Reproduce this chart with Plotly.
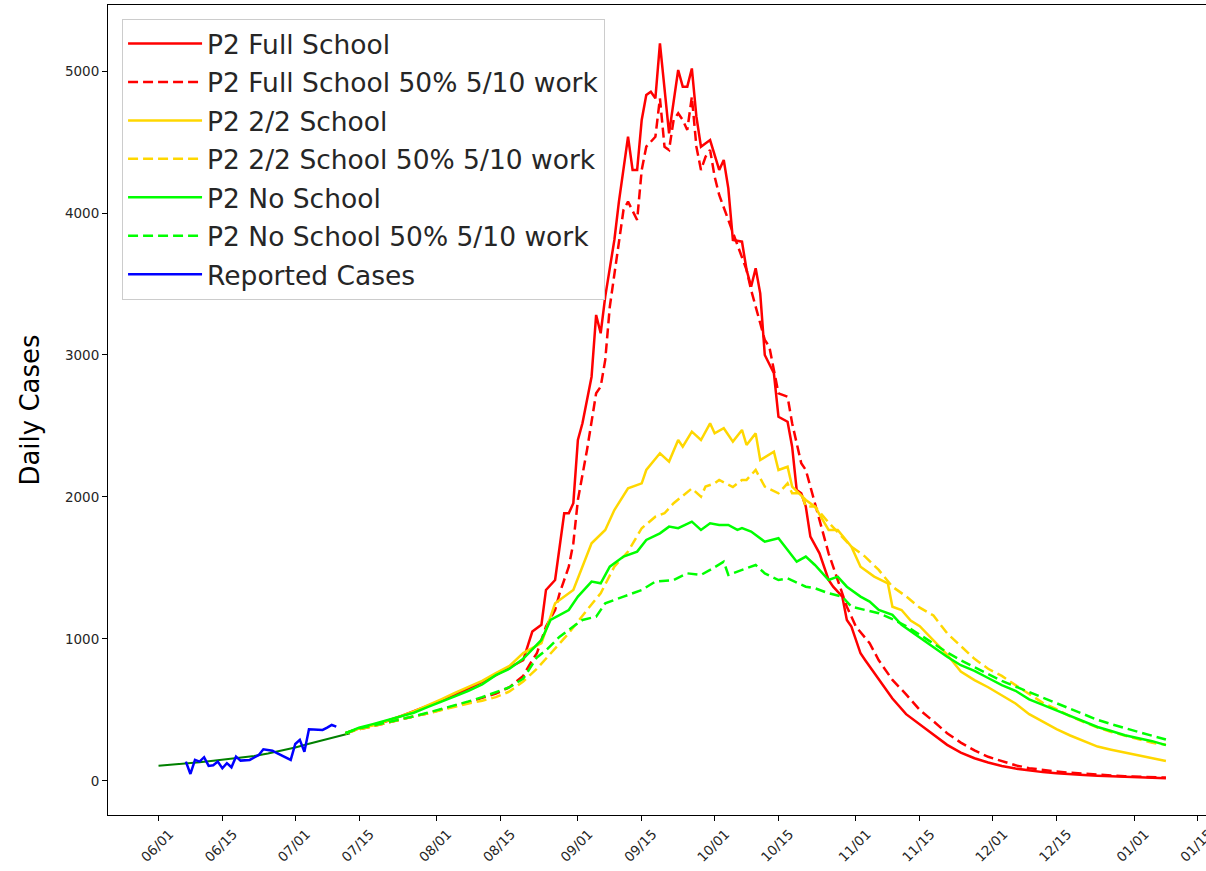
import pandas as pd
import plotly.graph_objects as go

FONT = "DejaVu Sans"
START = pd.Timestamp("2020-06-01")   # day 0 of the day offsets below

# ---------------- data (day offset from 06/01 : daily cases) ----------------
history_cases = {0: 106, 3: 113, 6: 122, 9: 132, 12: 142, 15: 152, 18: 163, 21: 176,
                 24: 193, 27: 212, 30: 235, 33: 262, 36: 285, 39: 310, 42: 336}

reported_cases = {6: 136, 7: 49, 8: 148, 9: 136, 10: 167, 11: 106, 12: 110, 13: 136,
                  14: 89, 15: 125, 16: 96, 17: 171, 18: 143, 19: 145, 20: 148, 21: 165,
                  22: 183, 23: 223, 24: 218, 25: 213, 26: 195, 27: 178, 28: 160, 29: 148,
                  30: 260, 31: 289, 32: 206, 33: 364, 34: 362, 35: 359, 36: 359, 37: 375,
                  38: 394, 39: 382}

full_school = {41: 336, 44: 370, 47: 395, 50: 420, 53: 455, 56: 490, 59: 525, 62: 565,
               65: 605, 68: 650, 71: 695, 74: 745, 77: 800, 80: 850, 82: 1052, 84: 1100,
               85: 1345, 87: 1415, 89: 1885, 90: 1885, 91: 1956, 92: 2401, 93: 2519,
               95: 2847, 96: 3282, 97: 3153, 98: 3411, 100: 3810, 101: 4080, 103: 4537,
               104: 4303, 105: 4303, 106: 4655, 107: 4831, 108: 4854, 109: 4808, 110: 5195,
               111: 4890, 112: 4561, 114: 5007, 115: 4890, 116: 4890, 117: 5018, 118: 4678,
               119: 4467, 121: 4514, 123: 4303, 124: 4373, 125: 4174, 126: 3810, 128: 3798,
               129: 3600, 130: 3481, 131: 3611, 132: 3434, 133: 3000, 135: 2871, 136: 2565,
               138: 2530, 139: 2354, 140: 2049, 141: 2026, 142: 1932, 143: 1721, 145: 1603,
               147: 1415, 148: 1368, 150: 1298, 151: 1134, 152: 1087, 154: 899, 155: 852,
               158: 720, 161: 580, 164: 470, 167: 400, 170: 330, 173: 254, 176: 200,
               179: 160, 182: 130, 185: 105, 188: 87, 191: 73, 194: 62, 197: 54, 200: 46,
               203: 41, 206: 36, 209: 32, 212: 27, 215: 23, 218: 21, 221: 19}

full_school_50 = {41: 336, 44: 365, 47: 385, 50: 410, 53: 430, 56: 455, 59: 475, 62: 500,
                  65: 525, 68: 555, 71: 585, 74: 615, 77: 660, 80: 740, 82: 852, 83: 899,
                  85: 1087, 87: 1204, 88: 1322, 90: 1509, 91: 1674, 92: 1979, 94: 2331,
                  96: 2730, 97: 2777, 98: 2965, 99: 3340, 100: 3560, 102: 4021, 103: 4080,
                  105: 3951, 106: 4303, 107: 4467, 109: 4537, 110: 4808, 111: 4467, 112: 4444,
                  113: 4655, 114: 4702, 115: 4655, 116: 4585, 117: 4819, 118: 4467, 119: 4303,
                  120: 4396, 121: 4444, 122: 4256, 123: 4127, 125: 3951, 127: 3763, 129: 3599,
                  130: 3458, 133: 3106, 134: 3058, 136: 2730, 138: 2706, 139: 2519, 141: 2237,
                  142: 2190, 144: 1956, 147: 1603, 149: 1415, 151: 1227, 153: 1087, 156: 970,
                  158: 850, 161: 711, 164: 610, 167: 500, 170: 420, 173: 336, 176: 270,
                  179: 215, 182: 170, 185: 140, 188: 110, 191: 90, 194: 76, 197: 66, 200: 58,
                  203: 50, 206: 44, 209: 38, 212: 33, 215: 29, 218: 26, 221: 24}

two_two_school = {41: 336, 44: 370, 47: 390, 50: 420, 53: 455, 56: 490, 59: 530, 62: 575,
                  65: 620, 68: 660, 71: 705, 74: 760, 77: 810, 80: 900, 84: 970, 87: 1251,
                  91: 1345, 95: 1674, 98: 1768, 100: 1908, 103: 2061, 106: 2096, 107: 2190,
                  110: 2308, 112: 2249, 114: 2401, 115: 2354, 117: 2460, 119: 2401, 121: 2519,
                  122: 2448, 124: 2484, 126: 2390, 128: 2472, 129: 2366, 131: 2448, 132: 2260,
                  135: 2319, 136: 2190, 138: 2213, 139: 2073, 142: 1979, 144: 1932, 147: 1768,
                  149: 1768, 152: 1650, 154: 1509, 157: 1439, 160: 1392, 161: 1227, 163: 1204,
                  165: 1130, 167: 1090, 170: 990, 173: 890, 176: 770, 179: 710, 182: 660,
                  185: 600, 188: 545, 191: 470, 194: 415, 197: 365, 200: 320, 203: 280,
                  206: 242, 209: 220, 212: 200, 215: 180, 218: 160, 221: 140}

two_two_school_50 = {41: 336, 44: 365, 47: 385, 50: 410, 53: 435, 56: 455, 59: 475, 62: 500,
                     65: 520, 68: 545, 71: 565, 74: 590, 77: 630, 80: 700, 83: 790, 86: 900,
                     90: 1040, 94: 1204, 97: 1322, 100: 1509, 103: 1615, 106: 1780, 109: 1861,
                     111: 1885, 113: 1956, 117: 2060, 119: 2002, 120: 2073, 122: 2096,
                     123: 2120, 126: 2070, 128: 2120, 129: 2120, 131: 2190, 133: 2073,
                     136: 2026, 138: 2096, 139: 2026, 141: 2026, 142: 1932, 144: 1932,
                     147: 1820, 150: 1721, 152: 1650, 155: 1580, 158: 1486, 161: 1368,
                     164: 1300, 167: 1220, 170: 1165, 173: 1040, 176: 950, 179: 860, 182: 790,
                     185: 740, 188: 675, 191: 610, 194: 550, 197: 505, 200: 455, 203: 415,
                     206: 375, 209: 345, 212: 318, 215: 290, 218: 268, 221: 255}

no_school = {41: 336, 44: 375, 47: 400, 50: 425, 53: 450, 56: 480, 59: 520, 62: 555,
             65: 595, 68: 635, 71: 680, 74: 745, 77: 790, 80: 860, 84: 993, 86: 1134,
             90: 1204, 92: 1298, 95: 1404, 97: 1392, 99: 1509, 102: 1580, 105: 1615,
             107: 1697, 110: 1744, 112: 1791, 114: 1780, 117: 1826, 119: 1768, 121: 1815,
             123: 1803, 125: 1803, 127: 1768, 128: 1780, 130: 1756, 133: 1685, 136: 1709,
             140: 1544, 142: 1580, 144: 1521, 147: 1415, 149: 1439, 151: 1368, 154: 1298,
             156: 1263, 158: 1204, 161: 1170, 163: 1100, 167: 1010, 170: 940, 173: 875,
             176: 815, 179: 775, 182: 725, 185: 675, 188: 635, 191: 575, 194: 535, 197: 495,
             200: 460, 203: 420, 206: 380, 209: 352, 212: 322, 215: 300, 218: 280, 221: 252}

no_school_50 = {41: 336, 44: 370, 47: 390, 50: 410, 53: 430, 56: 455, 59: 480, 62: 505,
                65: 530, 68: 560, 71: 590, 74: 625, 77: 660, 80: 720, 83: 870, 85: 920,
                88: 1016, 91: 1087, 93: 1134, 96: 1157, 98: 1251, 102: 1298, 106: 1345,
                109: 1404, 113: 1415, 116: 1462, 119: 1451, 121: 1486, 124: 1544, 125: 1451,
                128: 1486, 131: 1521, 133: 1462, 136: 1415, 138: 1427, 142: 1368, 144: 1357,
                147: 1322, 150: 1298, 152: 1227, 155: 1204, 158: 1181, 161: 1140, 164: 1090,
                167: 1030, 170: 965, 173: 905, 176: 850, 179: 800, 182: 750, 185: 705,
                188: 665, 191: 625, 194: 585, 197: 545, 200: 505, 203: 470, 206: 430,
                209: 400, 212: 370, 215: 345, 218: 318, 221: 292}

series_names = ["P2 Full School", "P2 Full School 50% 5/10 work",
                "P2 2/2 School", "P2 2/2 School 50% 5/10 work",
                "P2 No School", "P2 No School 50% 5/10 work"]
series_data = [full_school, full_school_50, two_two_school, two_two_school_50,
               no_school, no_school_50]
series_colors = ["#ff0000", "#ff0000", "#ffd700", "#ffd700", "#00ff00", "#00ff00"]
series_dashed = [False, True, False, True, False, True]

tick_dates = ["2020-06-01", "2020-06-15", "2020-07-01", "2020-07-15", "2020-08-01",
              "2020-08-15", "2020-09-01", "2020-09-15", "2020-10-01", "2020-10-15",
              "2020-11-01", "2020-11-15", "2020-12-01", "2020-12-15", "2021-01-01",
              "2021-01-15"]
y_ticks = [0, 1000, 2000, 3000, 4000, 5000]


def to_dates(d):
    return START + pd.to_timedelta(list(d.keys()), unit="D")


# ---------------- figure ----------------
fig = go.Figure()
fig.add_trace(go.Scatter(x=to_dates(history_cases), y=list(history_cases.values()),
                         mode="lines", line=dict(color="#008000", width=2),
                         showlegend=False, hoverinfo="skip"))

for i, (name, d, col, dashed) in enumerate(zip(series_names, series_data,
                                                series_colors, series_dashed)):
    fig.add_trace(go.Scatter(x=to_dates(d), y=list(d.values()), mode="lines", name=name,
                             legendgroup=f"g{i}",
                             line=dict(color=col, width=2.5,
                                       dash="10px,5px" if dashed else "solid")))

fig.add_trace(go.Scatter(x=to_dates(reported_cases), y=list(reported_cases.values()),
                         mode="lines", name="Reported Cases", legendgroup="g7",
                         line=dict(color="#0000ff", width=2.5)))

fig.update_layout(
    width=1206, height=871,
    margin=dict(l=108, r=0, t=5, b=56),
    paper_bgcolor="white", plot_bgcolor="white",
    font=dict(family=FONT, color="#262626"),
    showlegend=True,
    legend=dict(x=0.0128, y=0.983, xanchor="left", yanchor="top",
                bgcolor="rgba(255,255,255,0.85)", bordercolor="#cccccc", borderwidth=1,
                font=dict(family=FONT, size=26.5, color="#262626"),
                traceorder="grouped", tracegroupgap=1, itemwidth=74),
    xaxis=dict(type="date", range=["2020-05-20 22:00", "2021-01-16 19:00"],
               tickvals=tick_dates, tickformat="%m/%d", tickangle=-45,
               ticks="outside", ticklen=5, tickcolor="black", ticklabelshift=11,
               ticklabeloverflow="allow",
               tickfont=dict(family=FONT, size=13.5, color="#262626"),
               showline=True, linecolor="black", linewidth=1, mirror=True,
               showgrid=False, zeroline=False, automargin=False),
    yaxis=dict(range=[-240, 5465], tickvals=y_ticks,
               ticks="outside", ticklen=5, tickcolor="black",
               tickfont=dict(family=FONT, size=13.5, color="#262626"),
               showline=True, linecolor="black", linewidth=1, mirror=False,
               showgrid=False, zeroline=False, automargin=False,
               title=dict(text="Daily Cases", font=dict(family=FONT, size=26, color="black"),
                          standoff=17)),
)

fig.write_html("out.html", config={"displayModeBar": False},
               post_script="document.body.style.margin='0px';")
